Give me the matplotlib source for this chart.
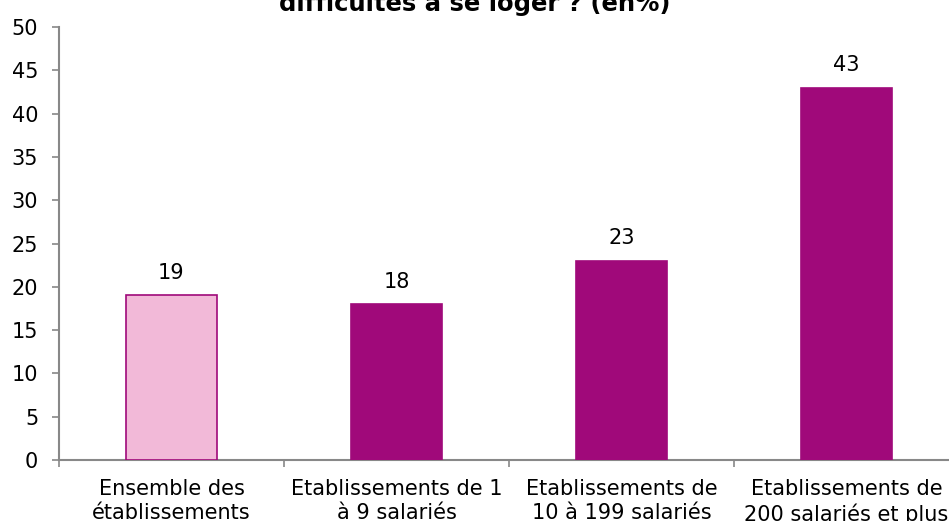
import numpy as np
import matplotlib.pyplot as plt

# data
categories = ["Ensemble des\nétablissements",
              "Etablissements de 1\nà 9 salariés",
              "Etablissements de\n10 à 199 salariés",
              "Etablissements de\n200 salariés et plus"]
values = [19, 18, 23, 43]
title = "difficultés à se loger ? (en%)"

pink = "#F2B9D8"
purple = "#A0097A"
grey = "#888888"

fig = plt.figure(figsize=(9.49, 5.21), dpi=100)
ax = fig.add_axes([59 / 949, 1 - 460 / 521, 900 / 949, 433 / 521])

x = np.arange(len(values))
fills = [pink] + [purple] * (len(values) - 1)
ax.bar(x, values, width=0.405, color=fills, edgecolor=purple, linewidth=1.2, zorder=3)

for xi, v in zip(x, values):
    ax.annotate(str(v), (xi, v), xytext=(0, 9), textcoords="offset points",
                ha="center", va="bottom", fontsize=15)

ax.set_xlim(-0.5, len(values) - 0.5)
ax.set_ylim(0, 50)
ax.set_yticks(range(0, 51, 5))

# category labels at centres, tick marks at the boundaries
ax.set_xticks(x)
ax.set_xticklabels(categories, fontsize=15, linespacing=1.22)
ax.set_xticks(np.arange(-0.5, len(values)), minor=True)
ax.tick_params(axis="x", which="major", length=0, pad=14)
ax.tick_params(axis="x", which="minor", length=5, color=grey, width=1.2)
ax.tick_params(axis="y", labelsize=15, length=5, color=grey, width=1.2, pad=10)

for side in ["top", "right"]:
    ax.spines[side].set_visible(False)
for side in ["left", "bottom"]:
    ax.spines[side].set_color(grey)
    ax.spines[side].set_linewidth(1.5)

fig.text(0.5, 1 - 11 / 521, title, ha="center", va="baseline",
         fontsize=17.5, fontweight="bold")

fig.savefig("out.png", dpi=100)
